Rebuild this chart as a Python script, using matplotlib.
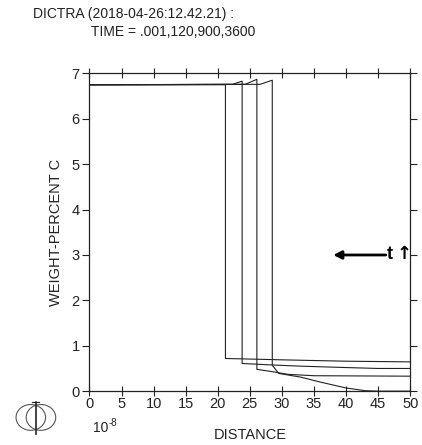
import matplotlib
matplotlib.use("Agg")
import matplotlib.pyplot as plt
from matplotlib.patches import Ellipse

plt.rcParams['font.family'] = ['Liberation Sans', 'DejaVu Sans']

# carbon profiles, distance in units of 1e-8
x_t1 = [0, 21.2, 21.2, 30, 40, 50]
c_t1 = [6.75, 6.75, 0.72, 0.69, 0.66, 0.645]

x_t2 = [0, 22.3, 23.8, 23.8, 28, 33, 40, 45, 50]
c_t2 = [6.75, 6.76, 6.83, 0.61, 0.58, 0.55, 0.52, 0.50, 0.50]

x_t3 = [0, 24.3, 26.1, 26.1, 28.5, 31, 35, 50]
c_t3 = [6.75, 6.76, 6.87, 0.48, 0.43, 0.37, 0.34, 0.33]

x_t4 = [0, 26.6, 28.5, 28.5, 29.5, 32.9, 36, 40, 43, 45, 50]
c_t4 = [6.75, 6.76, 6.85, 0.57, 0.39, 0.31, 0.20, 0.07, 0.01, 0, 0]

xticks = [0, 5, 10, 15, 20, 25, 30, 35, 40, 45, 50]
yticks = [0, 1, 2, 3, 4, 5, 6, 7]

ink = '#222222'
fig = plt.figure(figsize=(4.22, 4.45), dpi=100)
ax = fig.add_axes([0.212, 0.121, 0.760, 0.714])

for xs, cs in [(x_t1, c_t1), (x_t2, c_t2), (x_t3, c_t3), (x_t4, c_t4)]:
    ax.plot(xs, cs, color=ink, lw=0.8)

ax.set_xlim(0, 50)
ax.set_ylim(0, 7)
ax.set_xticks(xticks)
ax.set_yticks(yticks)
ax.tick_params(axis='x', direction='inout', length=7, width=0.8, colors=ink,
               labelsize=10.5, pad=1, top=True)
ax.tick_params(axis='y', direction='out', length=5, width=0.8, colors=ink,
               labelsize=10.5, pad=2, right=True)
for s in ax.spines.values():
    s.set_color(ink)
    s.set_linewidth(0.9)

ax.set_ylabel('WEIGHT-PERCENT C', fontsize=10.5, color=ink, labelpad=6)
ax.set_xlabel('DISTANCE', fontsize=10.5, color=ink, labelpad=12)
ax.text(0.012, -0.093, '10', transform=ax.transAxes,
        fontsize=10, color=ink, va='top', ha='left')
ax.text(0.058, -0.086, '-8', transform=ax.transAxes,
        fontsize=7, color=ink, va='top', ha='left')

# time direction arrow
ax.annotate('', xy=(38.0, 3.0), xytext=(46.2, 3.0),
            arrowprops=dict(arrowstyle='-|>', color='black', lw=2.0,
                            mutation_scale=12, shrinkA=0, shrinkB=0))
ax.text(46.3, 3.0, 't', fontsize=13, color='black', va='center', ha='left',
        fontweight='bold')
ax.text(47.9, 3.02, '\u2191', fontsize=13, color='black', va='center',
        ha='left', fontweight='bold', family='DejaVu Sans')

fig.text(0.078, 0.968, 'DICTRA (2018-04-26:12.42.21) :', fontsize=10,
         color=ink, va='center', ha='left')
fig.text(0.215, 0.928, 'TIME = .001,120,900,3600', fontsize=10,
         color=ink, va='center', ha='left')

# program logo, bottom left
for dx in (-0.012, 0.012):
    fig.add_artist(Ellipse((0.085 + dx, 0.062), 0.07, 0.058,
                           transform=fig.transFigure, fill=False,
                           edgecolor='#555555', lw=0.8))
fig.add_artist(plt.Line2D([0.085, 0.085], [0.025, 0.097],
                          transform=fig.transFigure, color=ink, lw=1.2))
fig.add_artist(plt.Line2D([0.077, 0.093], [0.097, 0.097],
                          transform=fig.transFigure, color=ink, lw=0.8))

fig.savefig('out.png', dpi=100, facecolor='white')
